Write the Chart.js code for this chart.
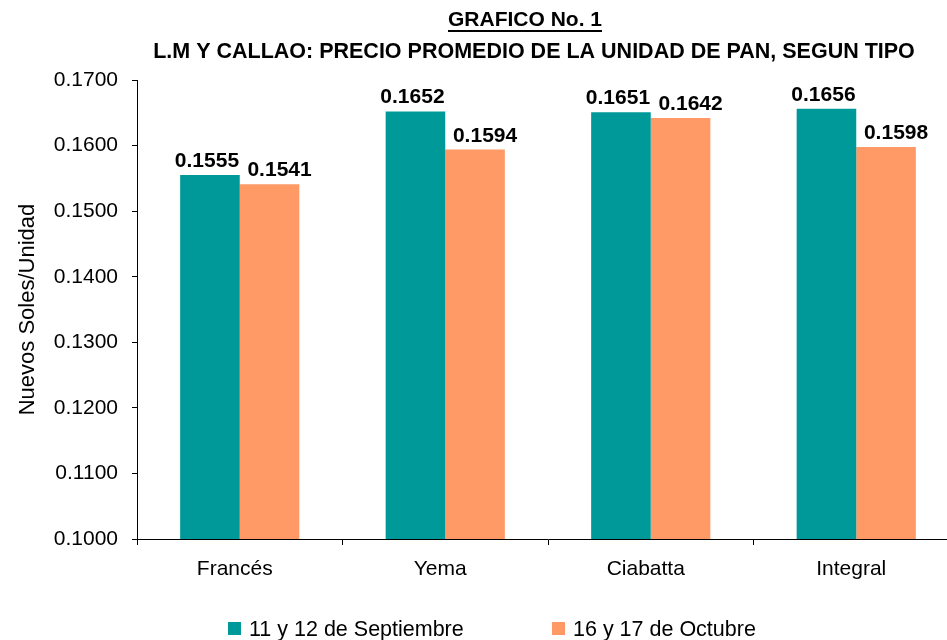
<!DOCTYPE html>
<html>
<head>
<meta charset="utf-8">
<script src="https://cdn.jsdelivr.net/npm/chart.js@4.4.0/dist/chart.umd.min.js"></script>
<style>
  html, body { margin: 0; padding: 0; overflow: hidden; background: #fff; }
  canvas { display: block; }
</style>
</head>
<body>
<canvas id="grafico-pan" width="960" height="640"></canvas>
<script>
var categorias = ["Francés", "Yema", "Ciabatta", "Integral"];
var septiembre = [0.1555, 0.1652, 0.1651, 0.1656];
var octubre = [0.1541, 0.1594, 0.1642, 0.1598];
var nombresSeries = ["11 y 12 de Septiembre", "16 y 17 de Octubre"];
var ejeMin = 0.1000, ejeMax = 0.1700, ejePaso = 0.0100;
var titulo = "GRAFICO No. 1";
var subtitulo = "L.M Y CALLAO: PRECIO PROMEDIO DE LA UNIDAD DE PAN, SEGUN TIPO";
var tituloEje = "Nuevos Soles/Unidad";

var fuente = "'Liberation Sans', Arial, sans-serif";
Chart.defaults.font.family = fuente;
Chart.defaults.color = "#000";

// titulo subrayado arriba del grafico
var pluginTitulo = {
    id: "titulo",
    afterDraw: function (chart) {
        var ctx = chart.ctx;
        ctx.save();
        ctx.fillStyle = "#000";
        ctx.textAlign = "center";
        ctx.textBaseline = "alphabetic";
        ctx.font = "bold 21px " + fuente;
        ctx.fillText(titulo, 525, 26);
        var w = ctx.measureText(titulo).width;
        ctx.fillRect(525 - w / 2, 30, w, 2);
        ctx.font = "bold 21.5px " + fuente;
        ctx.fillText(subtitulo, 534, 58);
        ctx.restore();
    }
};

// valores encima de cada barra
var pluginValores = {
    id: "valores",
    afterDatasetsDraw: function (chart) {
        var ctx = chart.ctx;
        var desplaza = [-3, 10];
        ctx.save();
        ctx.fillStyle = "#000";
        ctx.textAlign = "center";
        ctx.textBaseline = "alphabetic";
        ctx.font = "bold 21px " + fuente;
        chart.data.datasets.forEach(function (ds, i) {
            chart.getDatasetMeta(i).data.forEach(function (barra, j) {
                ctx.fillText(ds.data[j].toFixed(4), barra.x + desplaza[i], barra.y - 8);
            });
        });
        ctx.restore();
    }
};

// leyenda abajo, con mas espacio entre las dos series
var pluginLeyenda = {
    id: "leyenda",
    afterDraw: function (chart) {
        var ctx = chart.ctx;
        var xs = [228, 552];
        ctx.save();
        ctx.textAlign = "left";
        ctx.textBaseline = "alphabetic";
        ctx.font = "21.5px " + fuente;
        chart.data.datasets.forEach(function (ds, i) {
            ctx.fillStyle = ds.backgroundColor;
            ctx.fillRect(xs[i], 622, 13, 13);
            ctx.fillStyle = "#000";
            ctx.fillText(ds.label, xs[i] + 21, 636);
        });
        ctx.restore();
    }
};

var referencia = document.querySelector("#grafico-pan").getContext("2d");

var graficoPan = new Chart(referencia, {
    type: 'bar',
    data: {
        labels: categorias,
        datasets: [{
                label: nombresSeries[0],
                backgroundColor: "#009999",
                borderWidth: 0,
                data: septiembre
            },
            {
                label: nombresSeries[1],
                backgroundColor: "#FF9966",
                borderWidth: 0,
                data: octubre
            }
        ]
    },
    options: {
        responsive: false,
        animation: false,
        layout: {
            padding: { top: 80, left: 0, right: 1, bottom: 51 }
        },
        datasets: {
            bar: { barPercentage: 1, categoryPercentage: 0.58 }
        },
        plugins: {
            legend: { display: false },
            tooltip: { enabled: false }
        },
        scales: {
            x: {
                grid: { drawOnChartArea: false, tickLength: 6, color: "#000" },
                border: { color: "#000", width: 1 },
                ticks: { font: { size: 21 }, padding: 12, labelOffset: -5, color: "#000" },
                afterFit: function (escala) { escala.height = 50; }
            },
            y: {
                min: ejeMin,
                max: ejeMax,
                grid: { drawOnChartArea: false, tickLength: 5, color: "#000" },
                border: { color: "#000", width: 1 },
                ticks: {
                    stepSize: ejePaso,
                    font: { size: 21 },
                    padding: 14,
                    color: "#000",
                    callback: function (v) { return v.toFixed(4); }
                },
                title: {
                    display: true,
                    text: tituloEje,
                    font: { size: 22 },
                    color: "#000",
                    padding: { top: 15, bottom: 0 }
                },
                afterFit: function (escala) { escala.width = 137; }
            }
        }
    },
    plugins: [pluginTitulo, pluginValores, pluginLeyenda]
});
</script>
</body>
</html>
